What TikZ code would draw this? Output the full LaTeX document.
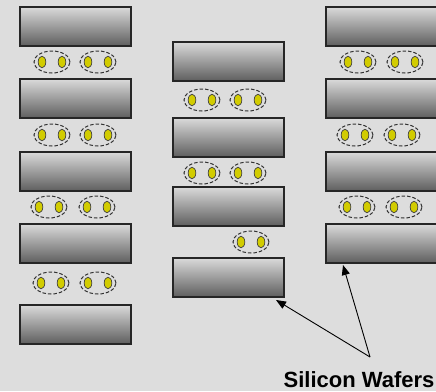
\documentclass[tikz,border=0pt]{standalone}
\usepackage{fontspec}
\setsansfont{Liberation Sans}
\usetikzlibrary{arrows.meta,calc,shapes.geometric}
\definecolor{bgColor}{HTML}{DDDDDD}
\definecolor{waferTop}{HTML}{DADADA}
\definecolor{waferMid}{HTML}{B8B8B8}
\definecolor{waferBot}{HTML}{5E5E5E}
\definecolor{dotColor}{HTML}{D2CC00}
\tikzset{
	wafer/.style={draw=black!85, line width=1.2pt, top color=waferTop, middle color=waferMid,
		bottom color=waferBot, minimum width=111pt, minimum height=39pt, inner sep=0, outer sep=0},
	dimer/.style={ellipse, draw=black!80, line width=1pt, dash pattern=on 3.5pt off 2pt,
		minimum width=36pt, minimum height=22pt, inner sep=0,
		path picture={
			\filldraw[solid, fill=dotColor, draw=black!75, line width=0.7pt]
				($(path picture bounding box.center)+(-10,0)$) ellipse (3.8pt and 5.8pt)
				($(path picture bounding box.center)+(10,0)$) ellipse (3.8pt and 5.8pt);}}
}

\begin{document}
\begin{tikzpicture}[x=1pt, y=-1pt, >={Triangle[length=10pt,width=8pt]}]
	\useasboundingbox (0,0) rectangle (436,391);
	\clip (0,0) rectangle (436,391);
	\fill[bgColor] (0,0) rectangle (436,391);
	% left stack
	\node[wafer] (wl1) at (75.5, 26.5) {};
	\node[wafer] (wl2) at (75.5, 98.5) {};
	\node[wafer] (wl3) at (75.5, 171.5) {};
	\node[wafer] (wl4) at (75.5, 243.5) {};
	\node[wafer] (wl5) at (75.5, 324.5) {};
	\node[dimer] (dl1a) at (52, 62) {};   \node[dimer] (dl1b) at (98, 62) {};
	\node[dimer] (dl2a) at (52, 135) {};  \node[dimer] (dl2b) at (98, 135) {};
	\node[dimer] (dl3a) at (49, 207) {};  \node[dimer] (dl3b) at (97, 207) {};
	\node[dimer] (dl4a) at (51, 283) {};  \node[dimer] (dl4b) at (98, 283) {};
	% middle stack
	\node[wafer] (wm1) at (228.5, 61.5) {};
	\node[wafer] (wm2) at (228.5, 137.5) {};
	\node[wafer] (wm3) at (228.5, 206.5) {};
	\node[wafer] (wm4) at (228.5, 277.5) {};
	\node[dimer] (dm1a) at (202, 100) {}; \node[dimer] (dm1b) at (248, 100) {};
	\node[dimer] (dm2a) at (202, 173) {}; \node[dimer] (dm2b) at (248, 173) {};
	\node[dimer] (dm3) at (251, 242) {};
	% right stack
	\node[wafer] (wr1) at (381.5, 26.5) {};
	\node[wafer] (wr2) at (381.5, 98.5) {};
	\node[wafer] (wr3) at (381.5, 171.5) {};
	\node[wafer] (wr4) at (381.5, 243.5) {};
	\node[dimer] (dr1a) at (358, 62) {};  \node[dimer] (dr1b) at (405, 62) {};
	\node[dimer] (dr2a) at (355, 135) {}; \node[dimer] (dr2b) at (402, 135) {};
	\node[dimer] (dr3a) at (357, 207) {}; \node[dimer] (dr3b) at (404, 207) {};
	% label and pointers
	\node[anchor=base, inner sep=0, font=\sffamily\bfseries\fontsize{22}{26}\selectfont] (lbl) at (359, 387) {Silicon Wafers};
	\coordinate (apex) at (370, 357);
	\draw[->, line width=0.9pt] (apex) -- ($(wm4.south east)+(-8,3)$);
	\draw[->, line width=0.9pt] (apex) -- ($(wr4.south west)+(17,2)$);
\end{tikzpicture}
\end{document}
